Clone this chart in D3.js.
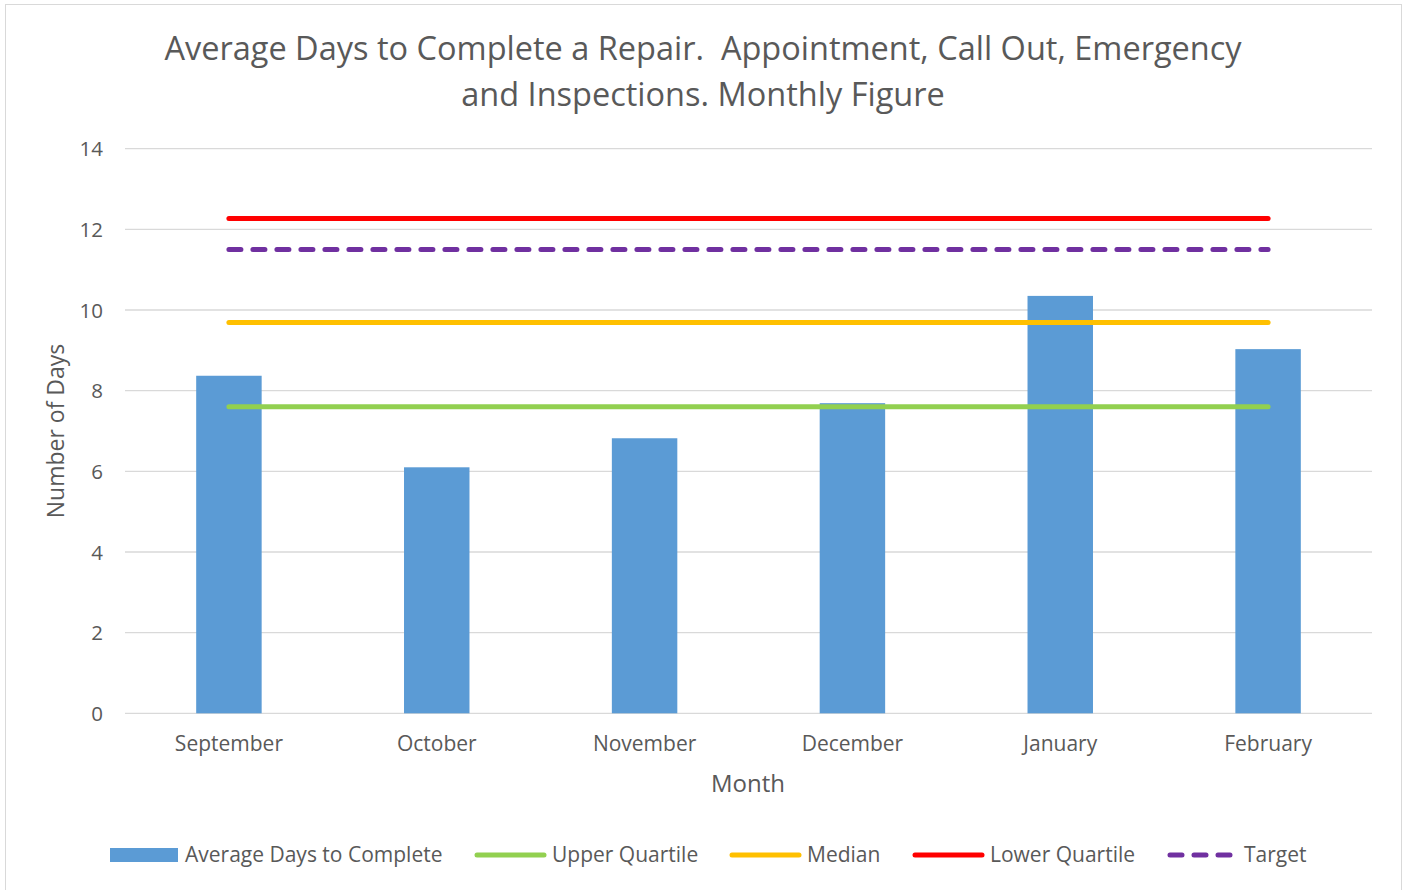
<!DOCTYPE html>
<html>
<head>
<meta charset="utf-8">
<script src="https://cdn.jsdelivr.net/npm/d3@7"></script>
<style>
    body { margin: 0; background: #fff; }
    text { font-family: "Open Sans", sans-serif; fill: #595959; }
</style>
</head>
<body>
<div id="chart"></div>
<script>
const months = ['September', 'October', 'November', 'December', 'January', 'February'];
const avgDays = [8.37, 6.10, 6.82, 7.69, 10.35, 9.03];
const upperQuartile = [7.6, 7.6, 7.6, 7.6, 7.6, 7.6];
const median = [9.69, 9.69, 9.69, 9.69, 9.69, 9.69];
const lowerQuartile = [12.27, 12.27, 12.27, 12.27, 12.27, 12.27];
const target = [11.5, 11.5, 11.5, 11.5, 11.5, 11.5];
const yTicks = [0, 2, 4, 6, 8, 10, 12, 14];

const width = 1407;
const height = 890;
const margin = { top: 148.7, right: 35, bottom: 176.7, left: 125 };

const svg = d3
    .select('#chart')
    .append('svg')
    .attr('width', width)
    .attr('height', height);

svg.append('rect')
    .attr('x', 5.5).attr('y', 4.5)
    .attr('width', 1396).attr('height', 890)
    .attr('fill', '#fff')
    .attr('stroke', '#d9d9d9');

const x = d3
    .scaleBand()
    .domain(months)
    .range([margin.left, width - margin.right])
    .paddingInner(0.685)
    .paddingOuter(0.3425);

const y = d3
    .scaleLinear()
    .domain([0, 14])
    .range([height - margin.bottom, margin.top]);

// gridlines
svg.append('g')
    .selectAll('line')
    .data(yTicks)
    .join('line')
    .attr('x1', margin.left)
    .attr('x2', width - margin.right)
    .attr('y1', d => y(d))
    .attr('y2', d => y(d))
    .attr('stroke', '#d9d9d9')
    .attr('stroke-width', 1.3);

// y axis
const yAxis = svg.append('g')
    .attr('transform', 'translate(' + (margin.left - 22) + ',0)')
    .call(d3.axisLeft(y).tickValues(yTicks).tickSize(0).tickPadding(0));
yAxis.select('.domain').remove();
yAxis.selectAll('text')
    .style('font-size', '20.5px')
    .attr('fill', '#595959')
    .attr('dy', '0.35em');

// bars
svg.append('g')
    .selectAll('rect')
    .data(avgDays)
    .join('rect')
    .attr('x', (d, i) => x(months[i]))
    .attr('width', x.bandwidth())
    .attr('y', d => y(d))
    .attr('height', d => y(0) - y(d))
    .attr('fill', '#5b9bd5');

// x axis
const xAxis = svg.append('g')
    .attr('transform', 'translate(0,' + (height - margin.bottom) + ')')
    .call(d3.axisBottom(x).tickSize(0).tickPadding(0));
xAxis.select('.domain').remove();
xAxis.selectAll('text')
    .style('font-size', '21px')
    .attr('fill', '#595959')
    .attr('y', 23);

// lines
const line = d3
    .line()
    .x((d, i) => x(months[i]) + x.bandwidth() / 2)
    .y(d => y(d));

const series = [
    { values: upperQuartile, color: '#92d050', dash: null },
    { values: median, color: '#ffc000', dash: null },
    { values: lowerQuartile, color: '#ff0000', dash: null },
    { values: target, color: '#7030a0', dash: '12,12' }
];

svg.append('g')
    .selectAll('path')
    .data(series)
    .join('path')
    .attr('d', s => line(s.values))
    .attr('fill', 'none')
    .attr('stroke', s => s.color)
    .attr('stroke-width', 5)
    .attr('stroke-linecap', 'round')
    .attr('stroke-dasharray', s => s.dash);

// title
svg.append('text')
    .attr('x', 703)
    .attr('text-anchor', 'middle')
    .style('font-size', '32.5px')
    .selectAll('tspan')
    .data(['Average Days to Complete a Repair.\u00a0 Appointment, Call Out, Emergency', 'and Inspections. Monthly Figure'])
    .join('tspan')
    .attr('x', 703)
    .attr('y', (d, i) => 60 + i * 46)
    .text(d => d);

// axis titles
svg.append('text')
    .attr('x', 748)
    .attr('y', 792)
    .attr('text-anchor', 'middle')
    .style('font-size', '24px')
    .text('Month');

svg.append('text')
    .attr('transform', 'translate(64,431) rotate(-90)')
    .attr('text-anchor', 'middle')
    .style('font-size', '23px')
    .text('Number of Days');

// legend
const legend = [
    { label: 'Average Days to Complete', type: 'bar', color: '#5b9bd5', x: 110, tx: 185 },
    { label: 'Upper Quartile', type: 'line', color: '#92d050', x: 477, tx: 552 },
    { label: 'Median', type: 'line', color: '#ffc000', x: 732, tx: 807 },
    { label: 'Lower Quartile', type: 'line', color: '#ff0000', x: 915, tx: 990 },
    { label: 'Target', type: 'dash', color: '#7030a0', x: 1170, tx: 1244 }
];
const ly = 855;
const lg = svg.append('g');
legend.forEach(item => {
    if (item.type === 'bar') {
        lg.append('rect')
            .attr('x', item.x).attr('y', ly - 7)
            .attr('width', 68).attr('height', 14)
            .attr('fill', item.color);
    } else {
        lg.append('line')
            .attr('x1', item.x).attr('x2', item.x + (item.type === 'dash' ? 62 : 67))
            .attr('y1', ly).attr('y2', ly)
            .attr('stroke', item.color)
            .attr('stroke-width', 5)
            .attr('stroke-linecap', 'round')
            .attr('stroke-dasharray', item.type === 'dash' ? '12,12' : null);
    }
    lg.append('text')
        .attr('x', item.tx)
        .attr('y', ly)
        .attr('dy', '0.35em')
        .style('font-size', '21px')
        .text(item.label);
});
</script>
</body>
</html>
